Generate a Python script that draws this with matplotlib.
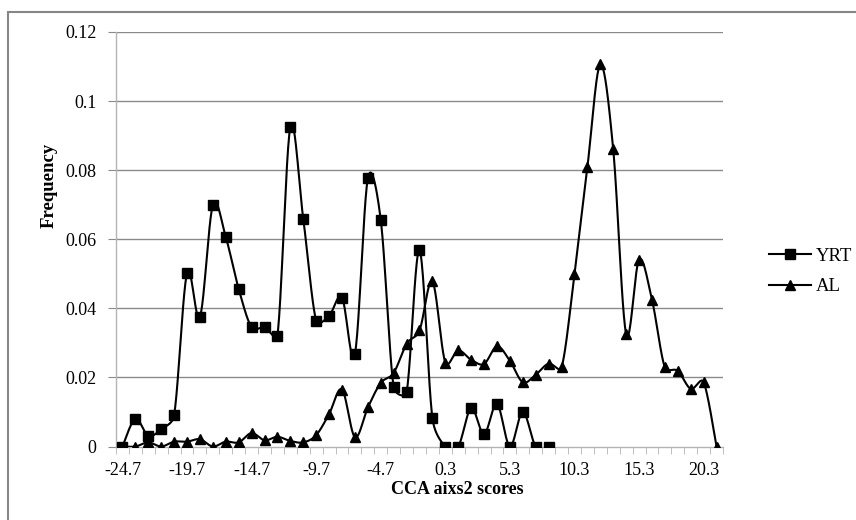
import numpy as np
import matplotlib
matplotlib.use("Agg")
import matplotlib.pyplot as plt
from matplotlib.patches import Rectangle
from matplotlib.lines import Line2D

# ---- data ----
categories = [round(-24.7 + i, 1) for i in range(47)]
tick_labels = ["-24.7", "-19.7", "-14.7", "-9.7", "-4.7", "0.3", "5.3", "10.3", "15.3", "20.3"]

yrt = [0.0, 0.0080, 0.0031, 0.0050, 0.0091, 0.0502, 0.0375, 0.0699, 0.0606, 0.0456,
       0.0345, 0.0345, 0.0321, 0.0925, 0.0659, 0.0364, 0.0378, 0.0431, 0.0269, 0.0776,
       0.0656, 0.0171, 0.0157, 0.0568, 0.0082, 0.0, 0.0, 0.0111, 0.0036, 0.0123,
       0.0, 0.0100, 0.0, 0.0]

al = [0.0, 0.0, 0.0012, 0.0, 0.0014, 0.0014, 0.0021, 0.0, 0.0014, 0.0012,
      0.0039, 0.0018, 0.0028, 0.0016, 0.0012, 0.0033, 0.0094, 0.0165, 0.0027, 0.0113,
      0.0184, 0.0213, 0.0297, 0.0336, 0.0478, 0.0243, 0.0278, 0.0251, 0.0239, 0.0290,
      0.0248, 0.0186, 0.0208, 0.0240, 0.0229, 0.0498, 0.0809, 0.1106, 0.0860, 0.0326,
      0.0541, 0.0425, 0.0229, 0.0219, 0.0167, 0.0186, 0.0]

W, H = 856, 520
left_px, right_px, top_px, bot_px = 116, 723, 32, 446.5
XS = (right_px - left_px) / len(categories)      # px per category
YS = (bot_px - top_px) / 0.12                    # px per unit value


def smooth(xs, ys, n=24):
    """Excel-like smoothed line: cubic Bezier, tension 1/6, tangents clipped
    to half of the adjacent segment length (computed in pixel space)."""
    P = np.column_stack([np.asarray(xs, float) * XS, np.asarray(ys, float) * YS])
    m = len(P)
    T = np.zeros_like(P)
    for i in range(m):
        a = P[max(i - 1, 0)]
        b = P[min(i + 1, m - 1)]
        T[i] = (b - a) / 6.0
    t = np.linspace(0, 1, n)[:, None]
    out = []
    for i in range(m - 1):
        p1, p2 = P[i], P[i + 1]
        seg = np.linalg.norm(p2 - p1)
        t1, t2 = T[i].copy(), T[i + 1].copy()
        for tv in (t1, t2):
            L = np.linalg.norm(tv)
            lim = seg * 0.5
            if L > lim and L > 0:
                tv *= lim / L
        c1 = p1 + t1
        c2 = p2 - t2
        B = (1 - t) ** 3 * p1 + 3 * (1 - t) ** 2 * t * c1 + 3 * (1 - t) * t ** 2 * c2 + t ** 3 * p2
        out.append(B if i == 0 else B[1:])
    B = np.vstack(out)
    return B[:, 0] / XS, B[:, 1] / YS


plt.rcParams['font.family'] = ['Liberation Serif', 'DejaVu Serif']

fig = plt.figure(figsize=(W / 100, H / 100), dpi=100)

# outer chart frame
fig.patches.append(Rectangle((8 / W, -0.1), 2.0, 1 - 12 / H + 0.1, transform=fig.transFigure,
                             fill=False, edgecolor='#868686', linewidth=1.5, zorder=0))

left, right = left_px / W, right_px / W
top, bottom = 1 - top_px / H, 1 - bot_px / H
ax = fig.add_axes([left, bottom, right - left, top - bottom])

xi = np.arange(len(categories))
grid_c = '#8a8a8a'
axis_c = '#b4b4b4'

for yv in np.arange(0.02, 0.121, 0.02):
    ax.axhline(yv, color=grid_c, linewidth=1.0, zorder=1)

x_y, y_y = xi[:len(yrt)], np.array(yrt)
sx, sy = smooth(x_y, y_y)
ax.plot(sx, sy, color='black', linewidth=1.5, zorder=3)
ax.plot(x_y, y_y, linestyle='none', marker='s', markersize=6.5, color='black', zorder=4)

x_a, y_a = xi[:len(al)], np.array(al)
sx, sy = smooth(x_a, y_a)
ax.plot(sx, sy, color='black', linewidth=1.5, zorder=3)
ax.plot(x_a, y_a, linestyle='none', marker='^', markersize=7, color='black', zorder=4)

ax.set_xlim(-0.5, len(categories) - 0.5)
ax.set_ylim(0, 0.12)

label_pos = [categories.index(float(t)) for t in tick_labels]
ax.set_xticks(label_pos)
ax.set_xticklabels(tick_labels)
ax.set_xticks(np.arange(-0.5, len(categories), 1.0), minor=True)
ax.tick_params(axis='x', which='major', length=0, pad=11, labelsize=13)
ax.tick_params(axis='x', which='minor', length=5, color=axis_c, direction='out')

yt = [0, 0.02, 0.04, 0.06, 0.08, 0.1, 0.12]
ax.set_yticks(yt)
ax.set_yticklabels(["0", "0.02", "0.04", "0.06", "0.08", "0.1", "0.12"])
ax.tick_params(axis='y', which='major', length=6, color=grid_c, direction='out', pad=8, labelsize=13)

for s in ['top', 'right']:
    ax.spines[s].set_visible(False)
for s in ['left', 'bottom']:
    ax.spines[s].set_color(axis_c)
    ax.spines[s].set_linewidth(1.0)

fig.text(457 / W, 1 - 489 / H, "CCA aixs2 scores", ha='center', va='center',
         fontsize=13, fontweight='bold')
fig.text(49 / W, 1 - 185 / H, "Frequency", ha='center', va='center', rotation=90,
         fontsize=13.5, fontweight='bold')

h1 = Line2D([], [], color='black', linewidth=1.5, marker='s', markersize=6.5)
h2 = Line2D([], [], color='black', linewidth=1.5, marker='^', markersize=7)
fig.legend([h1, h2], ["YRT", "AL"], loc='center left',
           bbox_to_anchor=(760 / W, 1 - 271.5 / H), frameon=False, fontsize=13.5,
           handlelength=2.2, handletextpad=0.25, labelspacing=0.7, borderpad=0)

fig.savefig("out.png", dpi=100)
